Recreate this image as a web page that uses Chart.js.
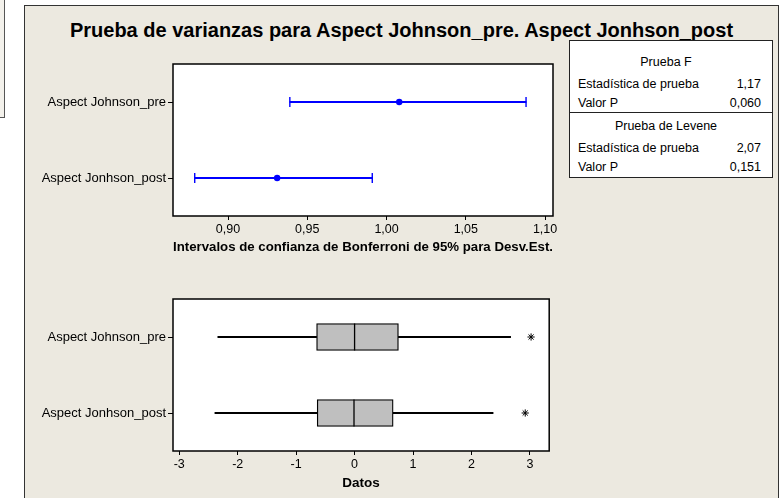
<!DOCTYPE html>
<html>
<head>
<meta charset="utf-8">
<script src="https://cdn.jsdelivr.net/npm/chart.js@4.4.1/dist/chart.umd.min.js"></script>
<style>
  body { margin:0; background:#fff; width:782px; height:498px; overflow:hidden; position:relative; font-family:"Liberation Sans", Arial, sans-serif; }
  #side { position:absolute; left:-1px; top:-1px; width:4px; height:117px; border:1px solid #555; background:#f3f1eb; }
  #frame { position:absolute; left:24px; top:5px; width:753px; height:500px; background:#ECE9E0; border:1px solid #333; border-bottom:none; }
  #title { position:absolute; left:24px; width:755px; top:19px; text-align:center; font-weight:bold; font-size:20px; line-height:22px; color:#000; white-space:nowrap; }
  canvas { position:absolute; }
  #stats { position:absolute; left:569px; top:40px; width:202px; height:136px; background:#fff; border:1px solid #222; }
  #stats .sep { position:absolute; left:0; right:0; top:71px; border-top:1px solid #222; }
  #stats span { position:absolute; font-size:12.5px; line-height:14px; color:#000; white-space:nowrap; }
</style>
</head>
<body>
<div id="side"></div>
<div id="frame"></div>
<div id="title">Prueba de varianzas para Aspect Johnson_pre. Aspect Jonhson_post</div>
<div id="stats"></div>
<canvas id="chartSd" width="540" height="222" style="left:24px;top:40px"></canvas>
<canvas id="chartBox" width="540" height="218" style="left:24px;top:280px"></canvas>
<script>
  const categories = ['Aspect Johnson_pre', 'Aspect Jonhson_post'];

  // Intervalos de confianza de Bonferroni (Desv.Est.)
  const sdLower = [0.939, 0.879];
  const sdValue = [1.008, 0.931];
  const sdUpper = [1.088, 0.991];
  const sdTicks = [0.90, 0.95, 1.00, 1.05, 1.10];

  // Gráfica de caja
  const whiskerLow = [-2.34, -2.39];
  const q1 = [-0.65, -0.64];
  const median = [0.00, -0.01];
  const q3 = [0.75, 0.66];
  const whiskerHigh = [2.67, 2.37];
  const outliers = [3.02, 2.92];
  const dataTicks = [-3, -2, -1, 0, 1, 2, 3];

  // Tabla de resultados
  const fTest = ['Prueba F', '1,17', '0,060'];
  const leveneTest = ['Prueba de Levene', '2,07', '0,151'];

  const FONT = '"Liberation Sans", Arial, sans-serif';

  // cuadro de estadísticas
  const stats = document.getElementById('stats');
  function addText(txt, x, y, align) {
    const s = document.createElement('span');
    s.textContent = txt;
    s.style.top = (y - 7) + 'px';
    if (align === 'right') s.style.right = x + 'px';
    else if (align === 'center') { s.style.left = '0'; s.style.width = (2 * x) + 'px'; s.style.textAlign = 'center'; }
    else s.style.left = x + 'px';
    stats.appendChild(s);
  }
  [[fTest, 0], [leveneTest, 64]].forEach(([t, dy]) => {
    addText(t[0], 96, 21 + dy, 'center');
    addText('Estadística de prueba', 8, 43 + dy);
    addText(t[1], 11, 43 + dy, 'right');
    addText('Valor P', 8, 62 + dy);
    addText(t[2], 11, 62 + dy, 'right');
  });
  const sep = document.createElement('div');
  sep.className = 'sep';
  stats.appendChild(sep);

  // marco blanco del área de trazado
  const plotFrame = {
    id: 'plotFrame',
    beforeDraw(chart) {
      const a = chart.chartArea, c = chart.ctx;
      c.save(); c.fillStyle = '#fff'; c.fillRect(a.left, a.top, a.right - a.left, a.bottom - a.top); c.restore();
    },
    afterDraw(chart) {
      const a = chart.chartArea, c = chart.ctx;
      c.save(); c.strokeStyle = '#000'; c.lineWidth = 1.5;
      c.strokeRect(a.left, a.top, a.right - a.left, a.bottom - a.top); c.restore();
    }
  };

  function yAxis() {
    return {
      type: 'category',
      labels: categories,
      offset: true,
      border: { display: false },
      grid: { offset: false, drawOnChartArea: false, tickLength: 5, color: '#000', lineWidth: 1 },
      ticks: { color: '#000', padding: 2, font: { family: FONT, size: 13 } },
      afterFit: s => { s.width = 149; }
    };
  }

  function xAxis(min, max, tickVals, fmt, title, h) {
    return {
      type: 'linear',
      min: min,
      max: max,
      border: { display: false },
      grid: { drawOnChartArea: false, tickLength: 4, color: '#000', lineWidth: 1 },
      ticks: { color: '#000', padding: 2, font: { family: FONT, size: 12.5 }, callback: fmt },
      afterBuildTicks: s => { s.ticks = tickVals.map(v => ({ value: v })); },
      title: { display: true, text: title, color: '#000', font: { family: FONT, size: 13.5, weight: 'bold' }, padding: { top: 0, bottom: 7 } },
      afterFit: s => { s.height = h; }
    };
  }

  const common = {
    responsive: false,
    animation: false,
    indexAxis: 'y',
    plugins: { legend: { display: false }, tooltip: { enabled: false } }
  };

  // Gráfico 1: intervalos de confianza
  new Chart(document.getElementById('chartSd').getContext('2d'), {
    type: 'bar',
    data: {
      labels: categories,
      datasets: [
        {
          type: 'line', showLine: false,
          data: categories.map((c, i) => ({ x: sdValue[i], y: c })),
          pointStyle: 'circle', pointRadius: 3.2, pointBackgroundColor: '#0000ff', pointBorderColor: '#0000ff', pointBorderWidth: 0
        },
        {
          type: 'line', showLine: false,
          data: categories.flatMap((c, i) => [{ x: sdLower[i], y: c }, { x: sdUpper[i], y: c }]),
          pointStyle: 'line', pointRotation: 90, pointRadius: 5, pointBorderColor: '#0000ff', pointBorderWidth: 1.4
        },
        {
          data: categories.map((c, i) => [sdLower[i], sdUpper[i]]),
          backgroundColor: '#0000ff', barThickness: 1.4, grouped: false, borderWidth: 0
        }
      ]
    },
    options: Object.assign({}, common, {
      layout: { padding: { top: 24, right: 11, left: 0, bottom: 0 } },
      scales: {
        x: xAxis(0.8653, 1.105, sdTicks, v => Number(v).toFixed(2).replace('.', ','),
          'Intervalos de confianza de Bonferroni de 95% para Desv.Est.', 46),
        y: yAxis()
      }
    }),
    plugins: [plotFrame]
  });

  // Gráfico 2: diagramas de caja
  new Chart(document.getElementById('chartBox').getContext('2d'), {
    type: 'bar',
    data: {
      labels: categories,
      datasets: [
        {
          type: 'line', showLine: false,
          data: categories.map((c, i) => ({ x: outliers[i], y: c })),
          pointStyle: 'star', pointRadius: 3.6, pointBorderColor: '#000', pointBorderWidth: 1
        },
        {
          type: 'line', showLine: false,
          data: categories.map((c, i) => ({ x: median[i], y: c })),
          pointStyle: 'line', pointRotation: 90, pointRadius: 13.5, pointBorderColor: '#000', pointBorderWidth: 1.3
        },
        {
          data: categories.map((c, i) => [q1[i], q3[i]]),
          backgroundColor: '#bfbfbf', borderColor: '#000', borderWidth: 1.3, borderSkipped: false,
          barThickness: 27, grouped: false
        },
        {
          data: categories.map((c, i) => [whiskerLow[i], q1[i]]),
          backgroundColor: '#000', barThickness: 1.3, grouped: false, borderWidth: 0
        },
        {
          data: categories.map((c, i) => [q3[i], whiskerHigh[i]]),
          backgroundColor: '#000', barThickness: 1.3, grouped: false, borderWidth: 0
        }
      ]
    },
    options: Object.assign({}, common, {
      layout: { padding: { top: 19, right: 11, left: 0, bottom: 0 } },
      scales: {
        x: xAxis(-3.107, 3.33, dataTicks, v => String(v), 'Datos', 47),
        y: yAxis()
      }
    }),
    plugins: [plotFrame]
  });
</script>
</body>
</html>
